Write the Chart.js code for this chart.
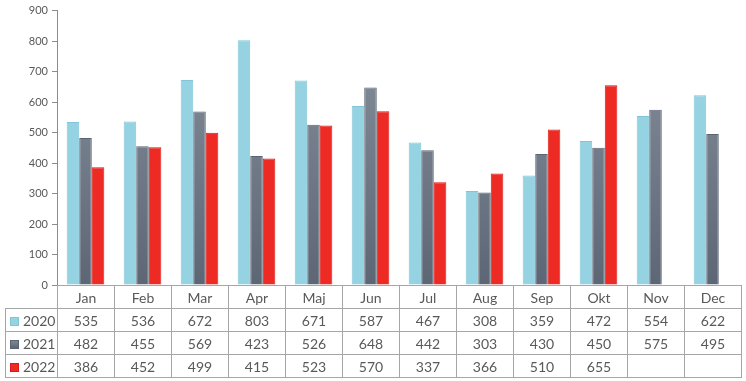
<!DOCTYPE html>
<html>
<head>
<meta charset="utf-8">
<script src="https://cdn.jsdelivr.net/npm/chart.js@4"></script>
<style>
  html, body { margin: 0; padding: 0; background: #fff; }
  #wrap { position: relative; width: 746px; height: 381px; overflow: hidden; }
  #chartBox { position: absolute; left: 0; top: 0; width: 746px; height: 297px; }
  #dataTable {
    position: absolute; left: 5px; top: 285px;
    border-collapse: collapse; table-layout: fixed;
    font-family: Lato, "Open Sans", sans-serif; font-size: 14px; color: #595959;
  }
  #dataTable td {
    border: 1px solid #a6a6a6; padding: 0; height: 22px; text-align: center;
    white-space: nowrap; overflow: hidden;
  }
  #dataTable tr.head td.blank { border-top: none; border-left: none; }
  #dataTable td.leg { text-align: left; padding-left: 4px; }
  .sw { display: inline-block; width: 9px; height: 9px; box-sizing: border-box; margin-right: 4px; }
</style>
</head>
<body>
<div id="wrap">
  <div id="chartBox"><canvas id="c"></canvas></div>
  <table id="dataTable"></table>
</div>
<script>
const categories = ["Jan","Feb","Mar","Apr","Maj","Jun","Jul","Aug","Sep","Okt","Nov","Dec"];
const seriesNames = ["2020","2021","2022"];
const values2020 = [535,536,672,803,671,587,467,308,359,472,554,622];
const values2021 = [482,455,569,423,526,648,442,303,430,450,575,495];
const values2022 = [386,452,499,415,523,570,337,366,510,655,null,null];
const yTicks = [0,100,200,300,400,500,600,700,800,900];

const blueFill = "#95d3e2", blueBorder = "#80c6d8";
const redFill = "#ee2a24", redBorder = "#dd1a16";
const grayTop = "#8a939f", grayBottom = "#5c6675", grayBorder = "#5a6472";

function grayGradient(ctx) {
  const chart = ctx.chart;
  const area = chart.chartArea;
  if (!area) return grayBottom;
  const g = chart.ctx.createLinearGradient(0, area.top, 0, area.bottom);
  g.addColorStop(0, grayTop);
  g.addColorStop(1, grayBottom);
  return g;
}

const seriesValues = [values2020, values2021, values2022];
const swatchStyles = [
  {bg: blueFill, bd: blueBorder},
  {bg: "linear-gradient(#7d8794,#5c6675)", bd: grayBorder},
  {bg: redFill, bd: redBorder}
];

new Chart(document.getElementById("c"), {
  type: "bar",
  data: {
    labels: categories,
    datasets: [
      { label: seriesNames[0], data: values2020, backgroundColor: blueFill, borderColor: blueBorder, borderWidth: 1, borderSkipped: "bottom" },
      { label: seriesNames[1], data: values2021, backgroundColor: grayGradient, borderColor: grayBorder, borderWidth: 1, borderSkipped: "bottom" },
      { label: seriesNames[2], data: values2022, backgroundColor: redFill, borderColor: redBorder, borderWidth: 1, borderSkipped: "bottom" }
    ]
  },
  options: {
    responsive: true,
    maintainAspectRatio: false,
    animation: false,
    layout: { padding: { left: 0, right: 5, top: 9, bottom: 12 } },
    datasets: { bar: { categoryPercentage: 0.66, barPercentage: 1.0 } },
    plugins: { legend: { display: false }, tooltip: { enabled: false } },
    scales: {
      x: { display: false },
      y: {
        min: 0, max: 900,
        afterFit: s => { s.width = 57; },
        afterBuildTicks: s => { s.ticks = yTicks.map(v => ({ value: v })); },
        border: { display: true, color: "#8c8c8c", width: 1 },
        grid: { display: true, drawOnChartArea: false, drawTicks: true, tickLength: 5, color: "#8c8c8c" },
        ticks: { padding: 4, color: "#595959", font: { family: "Lato", size: 11 } }
      }
    }
  }
});

// Data table built from the same arrays
const table = document.getElementById("dataTable");
const cg = document.createElement("colgroup");
const c0 = document.createElement("col"); c0.style.width = "52px"; cg.appendChild(c0);
categories.forEach(() => { const c = document.createElement("col"); c.style.width = "57px"; cg.appendChild(c); });
table.appendChild(cg);
const head = document.createElement("tr"); head.className = "head";
const blank = document.createElement("td"); blank.className = "blank"; head.appendChild(blank);
categories.forEach(m => { const td = document.createElement("td"); td.textContent = m; head.appendChild(td); });
table.appendChild(head);
seriesNames.forEach((name, i) => {
  const tr = document.createElement("tr");
  const lg = document.createElement("td"); lg.className = "leg";
  const sw = document.createElement("span"); sw.className = "sw";
  sw.style.background = swatchStyles[i].bg; sw.style.border = "1px solid " + swatchStyles[i].bd;
  lg.appendChild(sw); lg.appendChild(document.createTextNode(name));
  tr.appendChild(lg);
  seriesValues[i].forEach(v => { const td = document.createElement("td"); td.textContent = v == null ? "" : String(v); tr.appendChild(td); });
  table.appendChild(tr);
});
</script>
</body>
</html>
